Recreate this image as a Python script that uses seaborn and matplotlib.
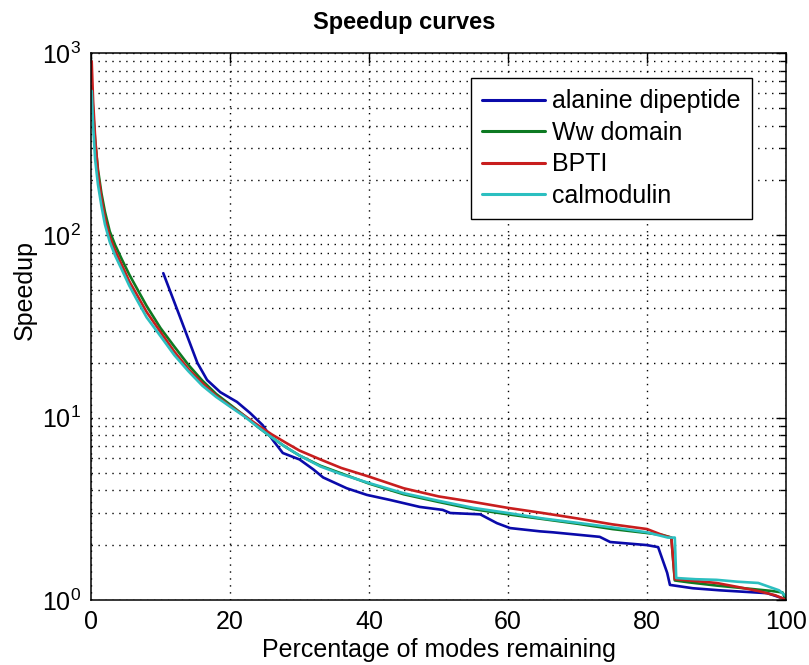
import numpy as np
import pandas as pd
import matplotlib
matplotlib.use("Agg")
import matplotlib.pyplot as plt
import seaborn as sns
from matplotlib.ticker import LogLocator, NullFormatter, FixedLocator

# Speedup vs. percentage of modes remaining, one curve per system
ala_x = [10.4, 12.8, 15.3, 16.7, 18.6, 21.0, 22.9, 24.7, 26.2, 27.6, 30.0, 32.0,
         33.4, 36.8, 39.7, 43.0, 47.3, 50.6, 51.7, 56.0, 58.4, 60.3, 64.6, 66.5,
         73.2, 74.7, 80.0, 81.6, 82.9, 83.3, 86.6, 90.5, 97.3, 99.6]
ala_y = [62.0, 35.7, 20.0, 16.1, 13.8, 12.2, 10.6, 9.1, 7.5, 6.4, 5.9, 5.2,
         4.7, 4.1, 3.77, 3.54, 3.24, 3.12, 3.0, 2.95, 2.64, 2.48, 2.38, 2.35,
         2.22, 2.08, 2.0, 1.95, 1.41, 1.21, 1.16, 1.13, 1.09, 1.02]

ww_x = [0.1, 0.3, 0.6, 1.0, 1.5, 2.0, 2.7, 3.5, 4.5, 5.5, 6.5, 8, 10, 12, 14, 16,
        18, 20, 22, 24, 26, 28, 30, 33, 36, 40, 45, 50, 55, 60, 65, 70, 75, 80,
        82.3, 83.5, 84, 86, 90, 95, 98, 99.5, 100]
ww_y = [650, 480, 330, 230, 170, 135, 105, 88, 73, 61, 52, 41, 31, 24.5, 19.5,
        16, 13.5, 11.8, 10.3, 8.9, 7.8, 6.9, 6.2, 5.45, 4.95, 4.35, 3.8, 3.45,
        3.15, 2.95, 2.78, 2.62, 2.45, 2.33, 2.27, 2.2, 1.28, 1.25, 1.2, 1.15,
        1.12, 1.1, 1.0]

bpti_x = [0.1, 0.3, 0.6, 1.0, 1.5, 2.0, 2.7, 3.5, 4.5, 5.5, 6.5, 8, 10, 12, 14,
          16, 18, 20, 22, 24, 26, 28, 30, 33, 36, 40, 45, 50, 55, 60, 65, 70, 75,
          80, 82.5, 83.5, 84, 87, 90, 93, 96, 98.5, 100]
bpti_y = [900, 550, 340, 220, 160, 125, 98, 82, 68, 56, 48, 38, 29.5, 23, 18.5,
          15.5, 13.2, 11.6, 10.3, 9.1, 8.1, 7.3, 6.6, 5.9, 5.3, 4.75, 4.1, 3.7,
          3.45, 3.2, 3.0, 2.8, 2.6, 2.45, 2.25, 2.2, 1.3, 1.27, 1.24, 1.18, 1.12,
          1.06, 1.0]

cal_x = [0.1, 0.3, 0.6, 1.0, 1.5, 2.0, 2.7, 3.5, 4.5, 5.5, 6.5, 8, 10, 12, 14,
         16, 18, 20, 22, 24, 26, 28, 30, 33, 36, 40, 45, 50, 55, 60, 65, 70, 75,
         80, 83, 84, 84.2, 87, 90, 93, 96, 99, 100]
cal_y = [620, 400, 260, 190, 145, 115, 92, 77, 64, 53, 45, 35.5, 28, 22, 18, 15,
         13, 11.5, 10.2, 8.9, 7.8, 6.9, 6.2, 5.4, 4.9, 4.38, 3.85, 3.5, 3.2, 3.0,
         2.8, 2.65, 2.5, 2.35, 2.2, 2.2, 1.32, 1.3, 1.29, 1.26, 1.24, 1.13, 1.05]

names = ["alanine dipeptide", "Ww domain", "BPTI", "calmodulin"]
colors = ["#0a0aaa", "#0d7a22", "#c81e1e", "#2cbfc0"]

frames = []
for name, xs, ys in zip(names, [ala_x, ww_x, bpti_x, cal_x],
                        [ala_y, ww_y, bpti_y, cal_y]):
    frames.append(pd.DataFrame({"pct": xs, "speedup": ys, "system": name}))
df = pd.concat(frames, ignore_index=True)

sns.set_theme(style="white")
plt.rcParams["font.family"] = ["Liberation Sans", "DejaVu Sans"]
plt.rcParams["mathtext.default"] = "regular"
plt.rcParams["text.color"] = "black"
plt.rcParams["axes.labelcolor"] = "black"

fig = plt.figure(figsize=(8.09, 6.65), dpi=100)
ax = fig.add_axes([91 / 809, 65 / 665, (786 - 91) / 809, (600 - 53) / 665])

sns.lineplot(data=df, x="pct", y="speedup", hue="system", hue_order=names,
             palette=colors, sort=False, estimator=None, units="system",
             linewidth=1.9, ax=ax)

ax.set_yscale("log")
ax.set_xlim(0, 100)
ax.set_ylim(1, 1000)
ax.xaxis.set_major_locator(FixedLocator([0, 20, 40, 60, 80, 100]))
ax.yaxis.set_major_locator(LogLocator(base=10, numticks=10))
ax.yaxis.set_minor_locator(LogLocator(base=10, subs=np.arange(2, 10), numticks=100))
ax.yaxis.set_minor_formatter(NullFormatter())

grid_kw = dict(color="black", linestyle=(0, (1, 4)), linewidth=1.0)
ax.grid(True, which="major", axis="both", **grid_kw)
ax.grid(True, which="minor", axis="y", **grid_kw)

for s in ax.spines.values():
    s.set_visible(True)
    s.set_color("black")
    s.set_linewidth(1.1)

ax.tick_params(which="both", direction="in", top=True, right=True,
               colors="black", labelsize=18)
ax.tick_params(which="major", length=7, width=1.0, pad=7)
ax.tick_params(which="minor", length=4, width=1.0)

ax.set_xlabel("Percentage of modes remaining", fontsize=18, labelpad=3)
ax.set_ylabel("Speedup", fontsize=18)
ax.yaxis.set_label_coords(-0.078, (600 - 290) / 547)
fig.text(404 / 809, 1 - 22 / 665, "Speedup curves", ha="center", va="center",
         fontsize=17, fontweight="bold")

leg = ax.legend(loc="upper right", bbox_to_anchor=((752 - 91) / 695, (600 - 78) / 547),
                fontsize=18, frameon=True, fancybox=False, framealpha=1,
                edgecolor="black", borderpad=0.45, labelspacing=0.3,
                handlelength=2.5, handletextpad=0.3, borderaxespad=0)
leg.get_frame().set_linewidth(1.0)
for h in leg.get_lines():
    h.set_linewidth(2.2)

fig.savefig("out.png", dpi=100, facecolor="white")
